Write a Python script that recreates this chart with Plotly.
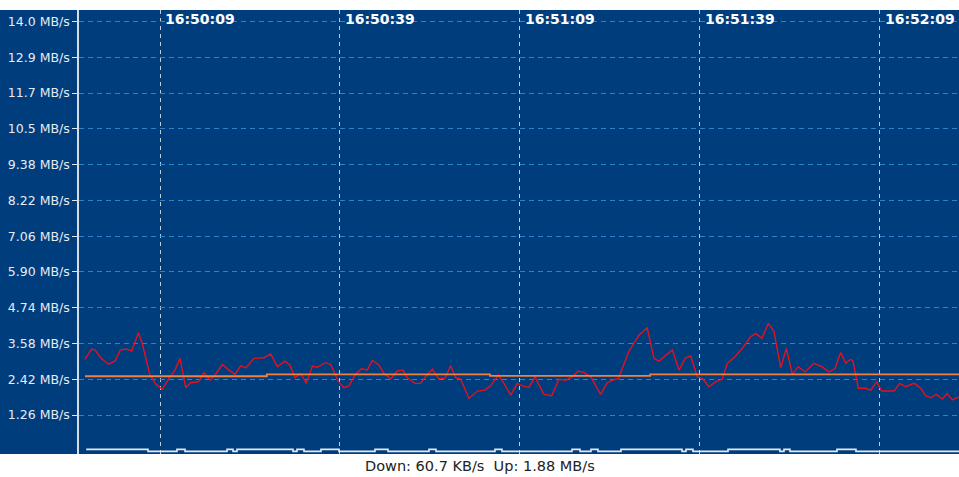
import plotly.graph_objects as go
import pandas as pd

# ---- data -------------------------------------------------------------
DAY = "2024-01-01"
BASE_TIME = "16:50:09"

x_tick_labels = ["16:50:09", "16:50:39", "16:51:09", "16:51:39", "16:52:09"]

y_tick_vals = [1.26, 2.42, 3.58, 4.74, 5.90, 7.06, 8.22, 9.38, 10.54, 11.70, 12.86, 14.02]
y_tick_text = ["1.26 MB/s", "2.42 MB/s", "3.58 MB/s", "4.74 MB/s", "5.90 MB/s", "7.06 MB/s",
               "8.22 MB/s", "9.38 MB/s", "10.5 MB/s", "11.7 MB/s", "12.9 MB/s", "14.0 MB/s"]

# Upload speed (MB/s), time as seconds relative to 16:50:09
up_t = [-12.5, -11.4, -10.8, -9.9, -8.6, -7.5, -6.6, -5.7, -4.7, -3.6, -2.95, -1.7, -0.7, 0.4,
        1.5, 2.5, 3.33, 4.3, 5.1, 6.4, 7.33, 8.33, 9.17, 10.4, 11.5,
        12.5, 13.45, 14.3, 15.67, 17.33, 18.45, 19.55, 20.83, 21.67, 22.5, 23.45, 24.4, 25.4,
        26.2, 27.6, 28.45, 29.3, 29.7, 30.67, 31.5, 32.5, 33.6, 34.55, 35.4, 36.5,
        37.33, 38.45, 39.55, 40.5, 41.2, 42.5, 43.45, 44.3, 45.4, 46.4, 47.5, 48.45, 49.3,
        50.1, 51.5, 52.9, 54.17, 55.1, 56.4, 57.33, 58.45, 59.55, 60.4, 61.5,
        62.5, 64.0, 65.3, 66.5, 67.6, 68.7, 69.7, 70.67, 71.8, 73.45, 74.55, 75.4, 76.4,
        77.05, 78.17, 79.83, 81.2, 82.33, 83.17, 85.4, 86.5,
        87.6, 88.45, 89.55, 90.4, 91.5, 92.6, 93.7, 94.55, 95.67, 97.05, 98.45, 99.3, 100.3,
        101.4, 102.33, 103.45, 104.4, 105.4, 106.4, 107.5, 109.0, 110.3, 111.5,
        112.5, 113.45, 114.3, 115.1, 115.5, 116.4, 117.6, 118.45, 119.45, 120.3, 121.2,
        122.33, 123.3, 124.3, 125.67, 126.8, 127.6, 128.45, 129.4, 130.4, 131.2, 132.05, 133.17]
up_v = [3.07, 3.40, 3.37, 3.12, 2.91, 3.01, 3.37, 3.40, 3.34, 3.93, 3.58, 2.58, 2.26, 2.10,
        2.45, 2.72, 3.10, 2.15, 2.31, 2.34, 2.64, 2.39, 2.56, 2.90, 2.72,
        2.58, 2.86, 2.79, 3.10, 3.12, 3.24, 2.83, 3.01, 2.88, 2.47, 2.61, 2.29, 2.85,
        2.81, 2.96, 2.90, 2.56, 2.36, 2.15, 2.21, 2.56, 2.77, 2.72, 3.04, 2.88,
        2.61, 2.43, 2.69, 2.72, 2.47, 2.29, 2.29, 2.52, 2.75, 2.45, 2.45, 2.86, 2.47,
        2.43, 1.80, 2.04, 2.07, 2.21, 2.56, 2.29, 1.91, 2.29, 2.21, 2.16,
        2.50, 1.93, 1.89, 2.42, 2.39, 2.50, 2.69, 2.64, 2.50, 1.93, 2.31, 2.39, 2.45,
        2.77, 3.33, 3.85, 4.09, 3.10, 3.01, 3.37, 2.72,
        3.12, 3.18, 2.50, 2.45, 2.18, 2.34, 2.42, 2.94, 3.12, 3.42, 3.80, 3.91, 3.75,
        4.23, 3.98, 2.79, 3.42, 2.58, 2.83, 2.66, 2.94, 2.83, 2.66,
        2.77, 3.29, 2.94, 3.07, 3.01, 2.13, 2.13, 2.07, 2.34, 2.04, 2.04,
        2.04, 2.29, 2.18, 2.29, 2.13, 1.89, 1.82, 1.93, 1.78, 1.96, 1.75, 1.85]

# Average upload (MB/s), step changes
avg_t = [-12.5, 17.8, 55.0, 81.7, 133.17]
avg_v = [2.52, 2.58, 2.53, 2.58, 2.58]

# Download speed (MB/s), step changes
down_t = [-12.3, -2.0, 2.83, 4.17, 11.17, 12.17, 12.83, 22.17, 22.83, 24.0, 26.83, 29.83,
          35.83, 38.0, 44.83, 46.0, 55.83, 57.0, 68.67, 70.0, 71.83, 73.0, 76.83, 87.0,
          87.67, 88.83, 94.67, 103.33, 104.0, 105.0, 112.83, 116.0, 133.17]
down_v = [0.15, 0.085, 0.15, 0.085, 0.15, 0.085, 0.15, 0.085, 0.15, 0.085, 0.15, 0.085,
          0.15, 0.085, 0.15, 0.085, 0.15, 0.085, 0.15, 0.085, 0.15, 0.085, 0.15, 0.085,
          0.15, 0.085, 0.15, 0.085, 0.15, 0.085, 0.15, 0.085, 0.085]

status_text = "Down: 60.7 KB/s  Up: 1.88 MB/s"

x_start_offset = -13.5
x_end_offset = 133.17

# ---- helpers ----------------------------------------------------------
base = pd.Timestamp(f"{DAY} {BASE_TIME}")


def to_times(offsets):
    return [base + pd.Timedelta(seconds=s) for s in offsets]


tick_times = [pd.Timestamp(f"{DAY} {lbl}") for lbl in x_tick_labels]

BG = "#003D7D"

fig = go.Figure()
fig.add_trace(go.Scatter(x=to_times(down_t), y=down_v, mode="lines", line_shape="hv",
                         line=dict(color="#E4EAF2", width=1.6), name="Down"))
fig.add_trace(go.Scatter(x=to_times(up_t), y=up_v, mode="lines",
                         line=dict(color="#E8101C", width=1.4), name="Up"))
fig.add_trace(go.Scatter(x=to_times(avg_t), y=avg_v, mode="lines", line_shape="hv",
                         line=dict(color="#F2803E", width=1.8), name="Avg"))

annotations = [dict(text=status_text, xref="paper", yref="paper", x=(480 - 79) / 880,
                    y=-12 / 444, xanchor="center", yanchor="middle", showarrow=False,
                    font=dict(family="DejaVu Sans", size=14.5, color="#222222"))]
for t, lbl in zip(tick_times, x_tick_labels):
    annotations.append(dict(text=lbl, x=t, xref="x", y=1, yref="paper",
                            xanchor="left", yanchor="top", xshift=3, yshift=1,
                            showarrow=False,
                            font=dict(family="DejaVu Sans", size=14, color="white",
                                      weight="bold")))

fig.update_layout(
    width=959, height=477,
    margin=dict(l=79, r=0, t=10, b=23),
    paper_bgcolor="white",
    plot_bgcolor=BG,
    showlegend=False,
    shapes=[dict(type="rect", xref="paper", yref="paper", x0=-79 / 880, x1=1, y0=0, y1=1,
                 fillcolor=BG, line=dict(width=0), layer="below")],
    annotations=annotations,
)

fig.update_xaxes(
    type="date",
    range=[base + pd.Timedelta(seconds=x_start_offset), base + pd.Timedelta(seconds=x_end_offset)],
    tickvals=tick_times, showticklabels=False, ticks="",
    showgrid=True, gridcolor="#C3CCD6", gridwidth=1, griddash="4px,4px",
    showline=False, zeroline=False,
)
fig.update_yaxes(
    range=[0, 14.39],
    tickvals=y_tick_vals, ticktext=y_tick_text,
    ticks="outside", ticklen=5, tickcolor="#E0E6EE", tickwidth=1,
    tickfont=dict(family="DejaVu Sans", size=12.5, color="#E6ECF4"),
    showgrid=True, gridcolor="#2A86C8", gridwidth=1, griddash="5px,4px",
    showline=True, linecolor="#D6DDE6", linewidth=1.5,
    zeroline=False,
)

fig.write_html("out.html", post_script="document.body.style.margin='0';",
               config={"displayModeBar": False})
